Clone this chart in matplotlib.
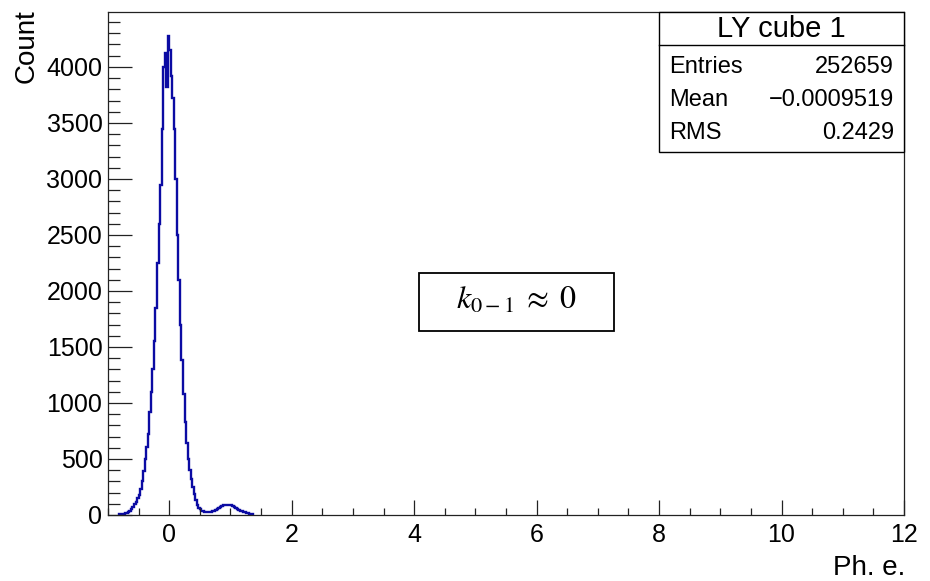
import numpy as np
import matplotlib.pyplot as plt
from matplotlib.patches import Rectangle
from matplotlib.lines import Line2D
from matplotlib.ticker import MultipleLocator

plt.rcParams['font.family'] = ['Liberation Sans', 'DejaVu Sans']
plt.rcParams['mathtext.fontset'] = 'stix'

# histogram: bins of 0.025 starting at -0.825
bin_lo = -0.825
bin_w = 0.025
counts = [5, 8, 10, 12, 15, 18, 25, 40, 55, 70,
          95, 115, 150, 180, 230, 300, 390, 500, 610, 720,
          920, 1100, 1300, 1550, 1850, 2250, 2600, 2950, 3450, 4000,
          4120, 3820, 4280, 4150, 3920, 3720, 3450, 3000, 2500, 2100,
          1700, 1380, 1080, 830, 640, 500, 400, 320, 250, 185,
          130, 90, 65, 50, 38, 32, 28, 25, 25, 27,
          30, 32, 38, 45, 55, 62, 70, 78, 85, 88,
          90, 88, 90, 85, 80, 70, 60, 50, 45, 40,
          35, 30, 25, 20, 15, 12, 8, 5]

hist_title = 'LY cube 1'
stat_names = ['Entries', 'Mean', 'RMS']
stat_values = ['252659', '\u22120.0009519', '0.2429']
x_label = 'Ph. e.'
y_label = 'Count'
note = r'$k_{0-1}\;\approx\;0$'

W, H = 930, 581
fig = plt.figure(figsize=(W / 100, H / 100), dpi=100)


def fx(px):
    return px / W


def fy(py):
    return 1 - py / H


ax = fig.add_axes([fx(108), fy(515), fx(904) - fx(108), fy(12) - fy(515)])
edges = bin_lo + bin_w * np.arange(len(counts) + 1)
ax.stairs(counts, edges, color='#0b0ba3', lw=1.7)

ax.set_xlim(-1, 12)
ax.set_ylim(0, 4490)
ax.xaxis.set_major_locator(MultipleLocator(2))
ax.xaxis.set_minor_locator(MultipleLocator(0.5))
ax.yaxis.set_major_locator(MultipleLocator(500))
ax.yaxis.set_minor_locator(MultipleLocator(100))
ax.tick_params(which='both', direction='in', width=0.9, color='#222222', labelsize=18)
ax.tick_params(axis='x', which='major', length=15 * 0.72, pad=5.5)
ax.tick_params(axis='x', which='minor', length=7.5 * 0.72)
ax.tick_params(axis='y', which='major', length=24 * 0.72, pad=4.0)
ax.tick_params(axis='y', which='minor', length=12 * 0.72)
for s in ax.spines.values():
    s.set_linewidth(0.9)
    s.set_color('#222222')

fig.text(fx(27), fy(9), y_label, rotation=90, ha='center', va='top', fontsize=20)
fig.text(fx(905), fy(568), x_label, ha='right', va='center', fontsize=20)

# stats box
bx0, bx1, by0, by1 = 659, 904, 12, 152
fig.patches.append(Rectangle((fx(bx0), fy(by1)), fx(bx1) - fx(bx0), fy(by0) - fy(by1),
                             transform=fig.transFigure, facecolor='white',
                             edgecolor='black', lw=1.0, zorder=5))
fig.lines.append(Line2D([fx(bx0), fx(bx1)], [fy(45), fy(45)],
                        transform=fig.transFigure, color='black', lw=1.0, zorder=6))
fig.text(fx((bx0 + bx1) / 2), fy(29), hist_title, ha='center', va='center',
         fontsize=21, zorder=7)
for i, (name, val) in enumerate(zip(stat_names, stat_values)):
    yy = fy(67 + 33 * i)
    fig.text(fx(669), yy, name, ha='left', va='center', fontsize=17, zorder=7)
    fig.text(fx(894), yy, val, ha='right', va='center', fontsize=17, zorder=7)

# annotation box
fig.patches.append(Rectangle((fx(419), fy(331)), fx(614) - fx(419), fy(273) - fy(331),
                             transform=fig.transFigure, facecolor='white',
                             edgecolor='black', lw=1.3, zorder=5))
fig.text(fx(517), fy(301), note, ha='center', va='center', fontsize=23, zorder=7)

fig.savefig('out.png', dpi=100)
